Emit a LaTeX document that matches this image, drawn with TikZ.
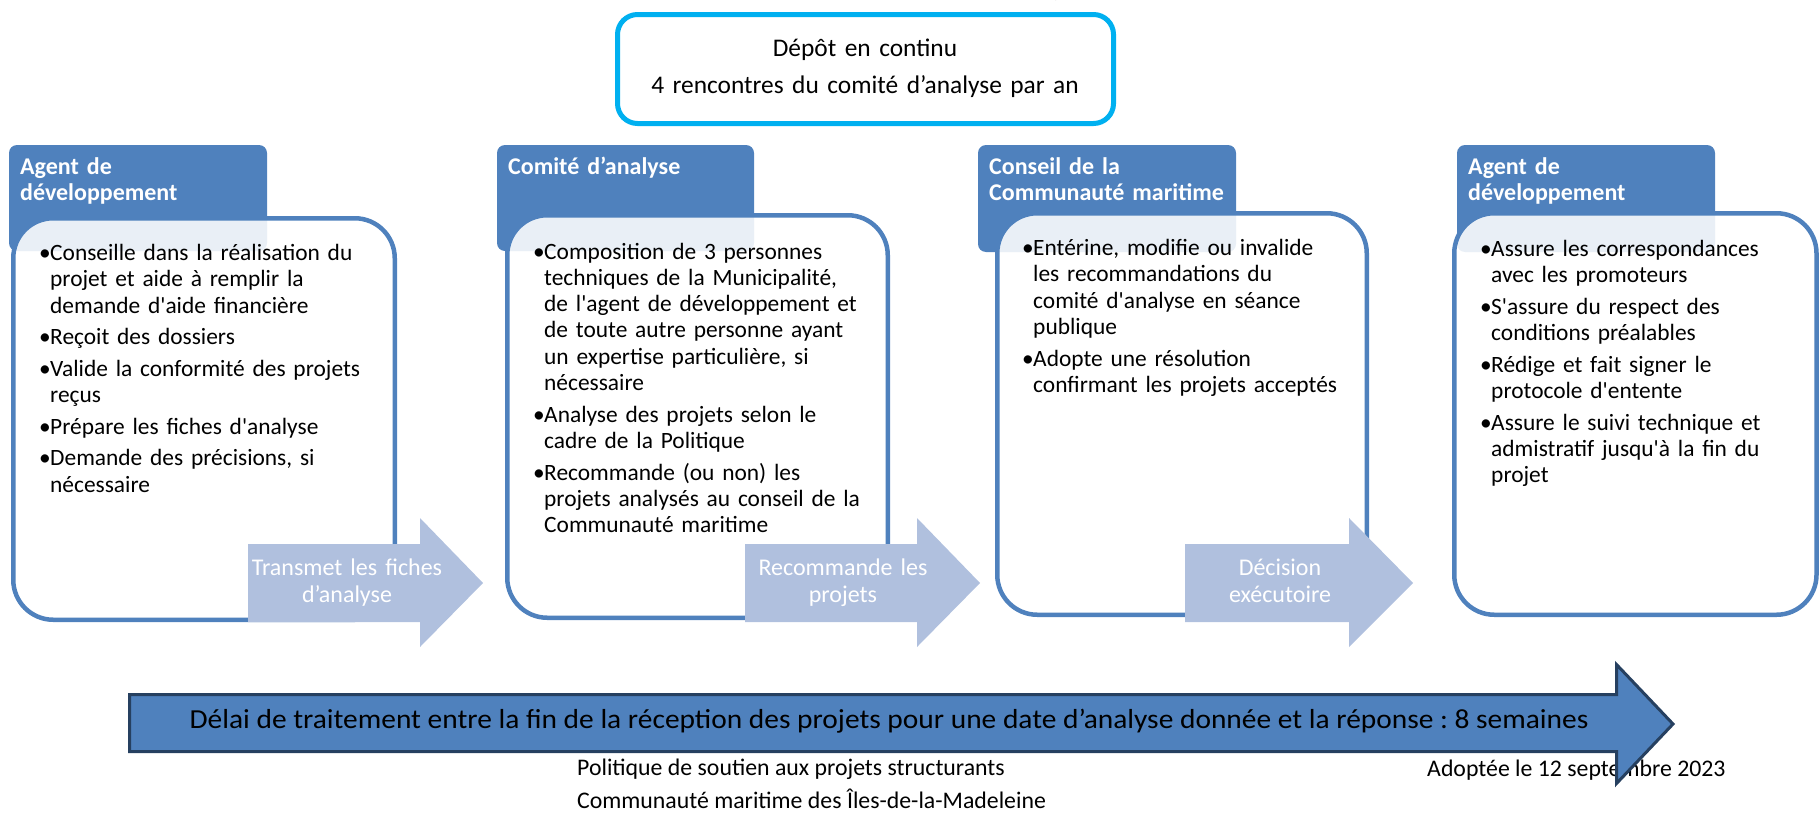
\documentclass[tikz,border=0pt]{standalone}
\usepackage{fontspec}
\usepackage{graphicx}
\setmainfont{Carlito}[Ligatures=TeXOff]
\frenchspacing
\definecolor{tabblue}{RGB}{79,129,189}
\definecolor{lightarrow}{RGB}{176,192,222}
\definecolor{topcyan}{RGB}{0,176,240}
\definecolor{navyline}{RGB}{38,64,96}
\newcommand\bitem[1]{\leavevmode\hangindent=11pt\hangafter=1\hbox to 11pt{•\hss}#1\par}
\tikzset{
  tabbox/.style={fill=tabblue, rounded corners=8pt},
  bodybox/.style={draw=tabblue, line width=4.5pt, fill=white, fill opacity=0.88, rounded corners=40pt},
  stepsarrow/.style={fill=lightarrow},
  topbox/.style={draw=topcyan, line width=5pt, rounded corners=20pt},
  bigarrow/.style={fill=tabblue, draw=navyline, line width=3pt},
  headtext/.style={anchor=base west, inner sep=0pt, text width=250pt, text=white, font=\fontsize{24}{26}\selectfont\bfseries\frenchspacing},
  bullettext/.style={anchor=base west, inner sep=0pt, text width=380pt, font=\fontsize{23.4}{26.3}\selectfont\frenchspacing},
  arrowtext/.style={anchor=base, inner sep=0pt, text width=240pt, align=center, text=white, font=\fontsize{24}{27}\selectfont},
  foottext/.style={anchor=base west, inner sep=0pt, font=\fontsize{23.8}{23.8}\selectfont},
}
\begin{document}
\begin{tikzpicture}[x=1pt,y=-1pt]
\useasboundingbox (0,0) rectangle (1819,814);
% cut-off title
\node[anchor=base west, inner sep=0pt, font=\fontsize{30}{30}\selectfont\bfseries] (title) at (1012,-5) {projets};
% top box
\draw[topbox] (617.5,14.5) rectangle (1113.5,123.5);
\node[anchor=base, inner sep=0pt, text width=480pt, align=center, font=\fontsize{25.4}{37}\selectfont] (depot) at (865,56) {Dépôt en continu\\4 rencontres du comité d’analyse par an};
% tabs
\fill[tabbox] (9,145) rectangle (267,251);
\fill[tabbox] (497,145) rectangle (754,251);
\fill[tabbox] (978,145) rectangle (1236,252);
\fill[tabbox] (1457,145) rectangle (1715,252);
% bodies
\path[bodybox] (13.25,218.25) rectangle (394.75,619.75);
\path[bodybox] (507.25,215.25) rectangle (887.75,617.75);
\path[bodybox] (997.25,213.25) rectangle (1366.75,614.75);
\path[bodybox] (1454.25,213.25) rectangle (1816.5,614.75);
% headers
\node[headtext] (h1) at (20,174.6) {Agent de\newline développement};
\node[headtext] (h2) at (508,174.6) {Comité d’analyse};
\node[headtext] (h3) at (989,174.6) {Conseil de la\newline Communauté maritime};
\node[headtext] (h4) at (1468,174.6) {Agent de\newline développement};
% bullets
\node[bullettext] (b1) at (39,260.6) {\setlength\parskip{5.3pt}\raggedright
\bitem{Conseille dans la réalisation du\newline projet et aide à remplir la\newline demande d'aide financière}
\bitem{Reçoit des dossiers}
\bitem{Valide la conformité des projets\newline reçus}
\bitem{Prépare les fiches d'analyse}
\bitem{Demande des précisions, si\newline nécessaire}};
\node[bullettext] (b2) at (533,259) {\setlength\parskip{5.3pt}\raggedright
\bitem{Composition de 3 personnes\newline techniques de la Municipalité,\newline de l'agent de développement et\newline de toute autre personne ayant\newline un expertise particulière, si\newline nécessaire}
\bitem{Analyse des projets selon le\newline cadre de la Politique}
\bitem{Recommande (ou non) les\newline projets analysés au conseil de la\newline Communauté maritime}};
\node[bullettext] (b3) at (1022,255.6) {\setlength\parskip{5.3pt}\raggedright
\bitem{Entérine, modifie ou invalide\newline les recommandations du\newline comité d'analyse en séance\newline publique}
\bitem{Adopte une résolution\newline confirmant les projets acceptés}};
\node[bullettext] (b4) at (1480,256.3) {\setlength\parskip{5.3pt}\raggedright
\bitem{Assure les correspondances\newline avec les promoteurs}
\bitem{S'assure du respect des\newline conditions préalables}
\bitem{Rédige et fait signer le\newline protocole d'entente}
\bitem{Assure le suivi technique et\newline admistratif jusqu'à la fin du\newline projet}};
% step arrows
\fill[stepsarrow] (248,544) -- (420,544) -- (420,518) -- (483,583) -- (420,647) -- (420,622) -- (248,622) -- cycle;
\fill[stepsarrow] (745,544) -- (917,544) -- (917,518) -- (980,583) -- (917,647) -- (917,622) -- (745,622) -- cycle;
\fill[stepsarrow] (1185,544) -- (1349,544) -- (1349,518) -- (1413,583) -- (1349,647) -- (1349,622) -- (1185,622) -- cycle;
\node[arrowtext] (a1) at (347,575.6) {Transmet les fiches\\d’analyse};
\node[arrowtext] (a2) at (843,575.6) {Recommande les\\projets};
\node[arrowtext] (a3) at (1280,575.6) {Décision\\exécutoire};
% footer
\node[foottext] (f1) at (577,775) {Politique de soutien aux projets structurants};
\node[foottext] (f2) at (577,808) {Communauté maritime des Îles-de-la-Madeleine};
\node[foottext] (f3) at (1427,776) {Adoptée le 12 septembre 2023};
% big arrow
\draw[bigarrow] (129.5,694.5) -- (1616.5,694.5) -- (1616.5,664.5) -- (1673,724) -- (1616.5,783.5) -- (1616.5,751.5) -- (129.5,751.5) -- cycle;
\node[anchor=base, inner sep=0pt, font=\fontsize{27.5}{27.5}\selectfont] (delai) at (889,728) {\scalebox{1.07}[1]{Délai de traitement entre la fin de la réception des projets pour une date d’analyse donnée et la réponse : 8 semaines}};
\end{tikzpicture}
\end{document}
